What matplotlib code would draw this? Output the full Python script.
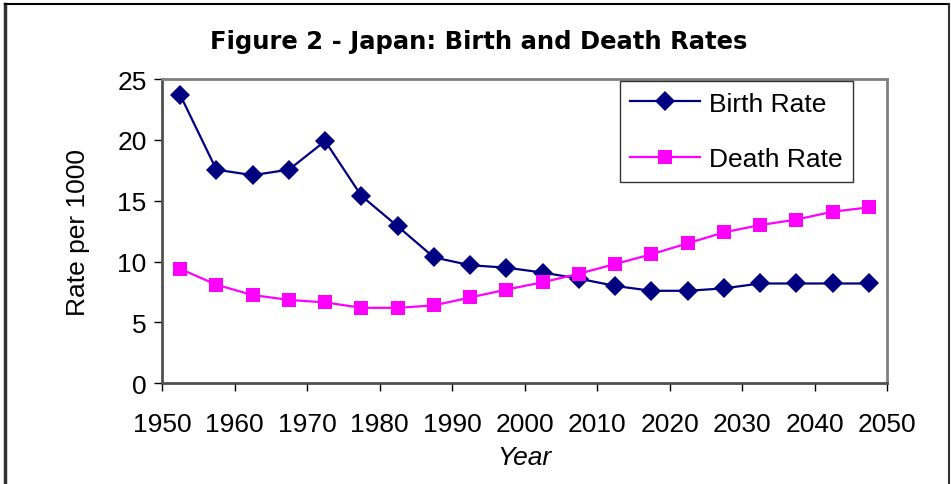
import numpy as np
import matplotlib.pyplot as plt
from matplotlib.lines import Line2D

# Japan birth and death rates, 5-year periods (mid points)
years = [1952.5, 1957.5, 1962.5, 1967.5, 1972.5, 1977.5, 1982.5, 1987.5, 1992.5, 1997.5,
         2002.5, 2007.5, 2012.5, 2017.5, 2022.5, 2027.5, 2032.5, 2037.5, 2042.5, 2047.5]
birth_rate = [23.7, 17.55, 17.1, 17.55, 19.9, 15.4, 12.9, 10.35, 9.7, 9.5,
              9.1, 8.6, 8.0, 7.6, 7.6, 7.8, 8.2, 8.2, 8.2, 8.2]
death_rate = [9.4, 8.1, 7.25, 6.85, 6.65, 6.2, 6.2, 6.4, 7.05, 7.7,
              8.3, 9.0, 9.8, 10.6, 11.5, 12.4, 13.0, 13.45, 14.1, 14.45]
x_ticks = list(range(1950, 2051, 10))
y_ticks = [0, 5, 10, 15, 20, 25]

plt.rcParams['font.family'] = ['Liberation Sans', 'DejaVu Sans']

fig = plt.figure(figsize=(9.51, 4.85), dpi=100)
ax = fig.add_axes([162/951, 1 - 384.3/485, (887 - 162)/951, (384.3 - 80)/485])

ax.plot(years, birth_rate, color='#000080', linewidth=1.6, marker='D',
        markersize=10, markeredgewidth=0, label='Birth Rate')
ax.plot(years, death_rate, color='#FF00FF', linewidth=1.6, marker='s',
        markersize=10, markeredgewidth=0, label='Death Rate')

ax.set_xlim(1950, 2050)
ax.set_ylim(0, 25)
ax.set_xticks(x_ticks)
ax.set_yticks(y_ticks)
ax.tick_params(axis='both', direction='out', length=6, width=1, colors='black',
               labelsize=19)
ax.tick_params(axis='x', pad=15)
ax.tick_params(axis='y', pad=5)

for side in ['top', 'right']:
    ax.spines[side].set_color('#808080')
    ax.spines[side].set_linewidth(2)
for side in ['left', 'bottom']:
    ax.spines[side].set_color('#505050')
    ax.spines[side].set_linewidth(2)

ax.set_xlabel('Year', fontsize=19, style='italic', labelpad=6)
ax.set_ylabel('Rate per 1000', fontsize=19, labelpad=20)

fig.suptitle('Figure 2 - Japan: Birth and Death Rates', x=479/951, y=1 - 42/485,
             va='center', fontsize=17.5, fontweight='bold', family='DejaVu Sans')

leg = ax.legend(loc='upper right', bbox_to_anchor=((853 - 162)/725, 1 - 2/304),
                fontsize=19, frameon=True, fancybox=False, borderpad=0.4,
                handlelength=2.65, handletextpad=0.32, labelspacing=1.2,
                borderaxespad=0)
leg.get_frame().set_edgecolor('black')
leg.get_frame().set_linewidth(1)

# outer chart border
fig.add_artist(Line2D([4.5/951, 4.5/951], [0, 1 - 5/485], transform=fig.transFigure,
                      color='#303030', linewidth=2.5))
fig.add_artist(Line2D([4.5/951, 949/951], [1 - 5/485, 1 - 5/485], transform=fig.transFigure,
                      color='black', linewidth=1.5))
fig.add_artist(Line2D([949/951, 949/951], [0, 1 - 5/485], transform=fig.transFigure,
                      color='#303030', linewidth=1.5))

fig.savefig('out.png', dpi=100)
